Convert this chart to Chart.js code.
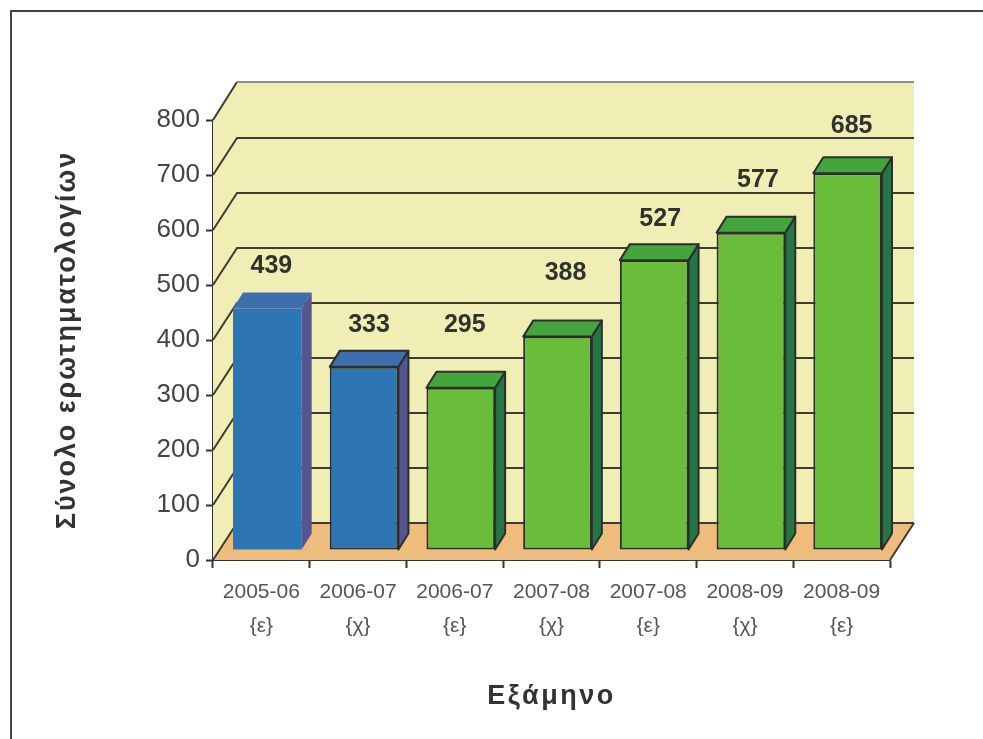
<!DOCTYPE html>
<html><head><meta charset="utf-8">
<style>
html,body{margin:0;padding:0;background:#fff;width:983px;height:739px;overflow:hidden}
#frame{position:absolute;left:10px;top:10px;width:973px;height:729px;border-left:2px solid #444;border-top:2px solid #444}
canvas{position:absolute;left:0;top:0;filter:blur(0.4px)}
</style>
<script src="https://cdn.jsdelivr.net/npm/chart.js@4"></script>
</head><body>
<div id="frame"></div>
<canvas id="c" width="983" height="739"></canvas>
<script>
const years = ['2005-06','2006-07','2006-07','2007-08','2007-08','2008-09','2008-09'];
const terms = ['{ε}','{χ}','{ε}','{χ}','{ε}','{χ}','{ε}'];
const totals = [439,333,295,388,527,577,685];
const yTitle = 'Σύνολο ερωτηματολογίων';
const xTitle = 'Εξάμηνο';
const blue = {front:'#2e75b3', top:'#3f6eae', side:'#56558f'};
const green = {front:'#69bd3b', top:'#44a43e', side:'#267545'};
const barPalette = [blue,blue,green,green,green,green,green];
const barStroke = [0,2,2,2,2,2,2];
const labelLift = [26,26,47,47,25,37,31];
const labelShift = [3,4,3,7,5,6,3];

const box3d = {
  id:'box3d',
  beforeDatasetsDraw(chart){
    const {ctx,scales:{x,y}} = chart;
    const W=24,D=37,l=x.left,r=x.right,t=y.top,b=y.bottom;
    ctx.save();
    ctx.fillStyle='#f0eeb4';
    ctx.beginPath();
    ctx.moveTo(l,b);ctx.lineTo(l,t);ctx.lineTo(l+W,t-D-1);ctx.lineTo(r+W,t-D-1);ctx.lineTo(r+W,b-D);ctx.lineTo(l+W,b-D);ctx.closePath();
    ctx.fill();
    ctx.fillStyle='#eebc7c';
    ctx.beginPath();
    ctx.moveTo(l,b);ctx.lineTo(l+W,b-D);ctx.lineTo(r+W,b-D);ctx.lineTo(r,b);ctx.closePath();
    ctx.fill();
    ctx.lineWidth=2;
    y.ticks.forEach(tk=>{
      const p=y.getPixelForValue(tk.value);
      const back=tk.value===y.max?p-D-1:p-D;
      ctx.strokeStyle='#3c3c34';
      ctx.beginPath();ctx.moveTo(l,p);ctx.lineTo(l+W,back);
      if(tk.value===y.max){ctx.stroke();ctx.strokeStyle='#8f8f80';ctx.beginPath();ctx.moveTo(l+W,back);}
      ctx.lineTo(r+W,back);ctx.stroke();
    });
    ctx.strokeStyle='#3c3c34';
    ctx.beginPath();ctx.moveTo(r,b);ctx.lineTo(r+W,b-D);ctx.stroke();
    ctx.restore();
    ctx.save();
    ctx.translate(6,-10);
  },
  afterDatasetsDraw(chart){
    const {ctx} = chart;
    const DX=10,DY=16;
    chart.getDatasetMeta(0).data.forEach((bar,i)=>{
      const {x,y,width,base}=bar.getProps(['x','y','width','base'],true);
      const L=x-width/2,R=x+width/2,c=barPalette[i],s=barStroke[i];
      ctx.lineWidth=s;ctx.strokeStyle='#2b2f2b';ctx.lineJoin='round';
      ctx.fillStyle=c.side;
      ctx.beginPath();ctx.moveTo(R,y);ctx.lineTo(R+DX,y-DY);ctx.lineTo(R+DX,base-DY);ctx.lineTo(R,base);ctx.closePath();ctx.fill();if(s)ctx.stroke();
      ctx.fillStyle=c.top;
      ctx.beginPath();ctx.moveTo(L,y);ctx.lineTo(L+DX,y-DY);ctx.lineTo(R+DX,y-DY);ctx.lineTo(R,y);ctx.closePath();ctx.fill();if(s)ctx.stroke();
    });
    ctx.restore();
    ctx.save();
    ctx.fillStyle='#30322e';ctx.font='bold 25px "Liberation Sans", Arial, sans-serif';
    ctx.textAlign='center';ctx.textBaseline='middle';
    chart.getDatasetMeta(0).data.forEach((bar,i)=>{
      const {x,y}=bar.getProps(['x','y'],true);
      ctx.fillText(String(totals[i]),x+7+labelShift[i],y-10-16-labelLift[i]);
    });
    ctx.restore();
  }
};
function spaced(scale,px){
  if(scale._spaced) return;
  scale._spaced=true;
  const orig=scale.drawTitle;
  scale.drawTitle=function(){const c=this.ctx;c.save();c.letterSpacing=px;orig.apply(this,arguments);c.restore();};
}
new Chart(document.getElementById('c'),{
  type:'bar',
  data:{labels:years.map((yr,i)=>[yr,terms[i]]),
    datasets:[{data:totals,backgroundColor:barPalette.map(c=>c.front),borderColor:'#2b2f2b',borderWidth:barStroke,
      categoryPercentage:1,barPercentage:0.71,borderSkipped:false}]},
  plugins:[box3d],
  options:{
    responsive:false,animation:false,
    layout:{padding:{left:50,right:93,top:120,bottom:0}},
    plugins:{legend:{display:false},tooltip:{enabled:false}},
    scales:{
      x:{offset:true,
        grid:{drawOnChartArea:false,tickLength:8,tickColor:'#333',tickWidth:2},
        border:{color:'#333',width:2},
        ticks:{color:'#555',font:{family:'"Liberation Sans", Arial, sans-serif',size:21,lineHeight:'34px'},padding:7,maxRotation:0,autoSkip:false},
        title:{display:true,text:xTitle,color:'#333',font:{family:'"Liberation Sans", Arial, sans-serif',size:27,weight:'bold'},padding:{top:0,bottom:26}},
        afterFit(s){s.height=179;spaced(s,'2.5px');}
      },
      y:{min:0,max:800,
        grid:{drawOnChartArea:false,tickLength:7,tickColor:'#333',tickWidth:2},
        border:{color:'#333',width:2},
        ticks:{stepSize:100,color:'#444',font:{family:'"Liberation Sans", Arial, sans-serif',size:26},padding:6},
        title:{display:true,text:yTitle,color:'#333',font:{family:'"Liberation Sans", Arial, sans-serif',size:27,weight:'bold'},padding:{top:1,bottom:0}},
        afterFit(s){s.width=163;spaced(s,'2px');}
      }
    }
  }
});
</script>
</body></html>
